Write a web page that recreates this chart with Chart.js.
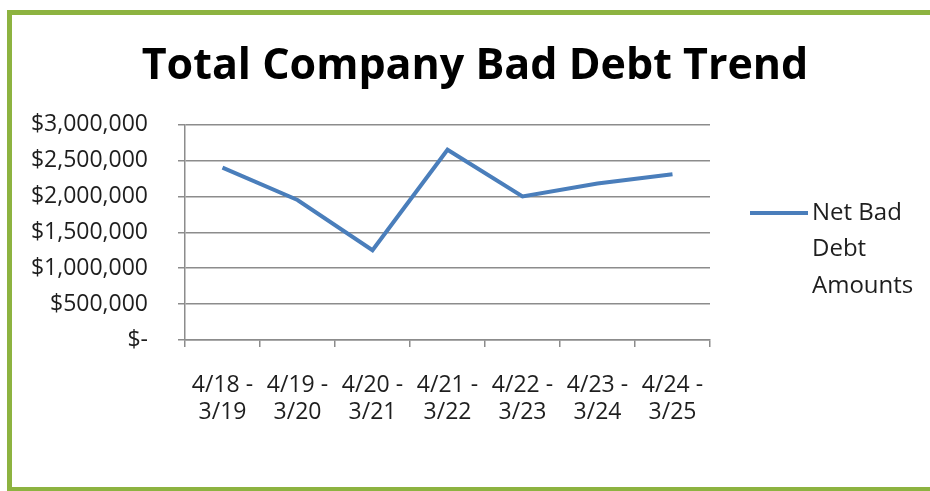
<!DOCTYPE html>
<html>
<head>
<meta charset="utf-8">
<script src="https://cdn.jsdelivr.net/npm/chart.js@4"></script>
<style>
  html, body { margin: 0; padding: 0; background: #fff; }
  #wrap { position: relative; width: 930px; height: 491px; overflow: hidden; }
  #frame {
    position: absolute; left: 7px; top: 10px; width: 940px; height: 472px;
    border-left: 5px solid #8db340; border-top: 5px solid #8db340; border-bottom: 5px solid #8db340;
  }
  canvas { position: absolute; left: 0; top: 0; }
</style>
</head>
<body>
<div id="wrap">
  <div id="frame"></div>
  <canvas id="chart" width="930" height="491"></canvas>
</div>
<script>
// data
const periods = [['4/18 -', '3/19'], ['4/19 -', '3/20'], ['4/20 -', '3/21'], ['4/21 -', '3/22'],
                 ['4/22 -', '3/23'], ['4/23 -', '3/24'], ['4/24 -', '3/25']];
const netBadDebt = [2400000, 1950000, 1250000, 2650000, 2000000, 2180000, 2310000];
const seriesName = 'Net Bad Debt Amounts';
const legendLines = ['Net Bad', 'Debt', 'Amounts'];

const lineColor = '#4a7ebb';
const gridColor = '#8c8c8c';
const textColor = '#1e1e1e';
const fontFamily = '"Open Sans", sans-serif';

// legend drawn by hand so the label can wrap like the original
const sideLegend = {
  id: 'sideLegend',
  afterDraw(chart) {
    const ctx = chart.ctx;
    const x = chart.chartArea.right + 40;
    const y = 213;
    ctx.save();
    ctx.strokeStyle = lineColor;
    ctx.lineWidth = 4;
    ctx.beginPath();
    ctx.moveTo(x, y);
    ctx.lineTo(x + 58, y);
    ctx.stroke();
    ctx.fillStyle = textColor;
    ctx.font = '24px ' + fontFamily;
    ctx.textBaseline = 'middle';
    legendLines.forEach((t, i) => ctx.fillText(t, x + 62, y + i * 36.5));
    ctx.restore();
  }
};

new Chart(document.getElementById('chart'), {
  type: 'line',
  data: {
    labels: periods,
    datasets: [{
      label: seriesName,
      data: netBadDebt,
      borderColor: lineColor,
      backgroundColor: lineColor,
      borderWidth: 4,
      pointRadius: 0,
      tension: 0,
      fill: false
    }]
  },
  options: {
    responsive: false,
    animation: false,
    layout: { padding: { left: 20, right: 0, top: 0, bottom: 0 } },
    plugins: {
      legend: { display: false },
      tooltip: { enabled: false },
      title: {
        display: true,
        text: 'Total Company Bad Debt Trend',
        color: '#000',
        font: { family: fontFamily, size: 43, weight: 'bold', lineHeight: 1.2 },
        padding: { top: 41, bottom: 32 }
      }
    },
    scales: {
      x: {
        offset: true,
        grid: { display: true, drawOnChartArea: false, drawTicks: true, tickLength: 7, color: gridColor, lineWidth: 1.5, offset: true },
        border: { display: true, color: gridColor, width: 1.5 },
        ticks: {
          color: textColor, padding: 25, maxRotation: 0, autoSkip: false,
          font: { family: fontFamily, size: 23, lineHeight: 1.17 }
        },
        afterFit(scale) { scale.height = 151; }
      },
      y: {
        min: 0, max: 3000000,
        grid: { color: gridColor, lineWidth: 1.5, tickLength: 7 },
        border: { display: true, color: gridColor, width: 1.5 },
        ticks: {
          stepSize: 500000, color: textColor, padding: 30,
          font: { family: fontFamily, size: 23 },
          callback: v => v === 0 ? '$-' : '$' + v.toLocaleString('en-US')
        },
        afterFit(scale) { scale.width = 165; }
      },
      // empty right-hand axis that reserves room for the legend
      side: {
        type: 'linear',
        position: 'right',
        display: true,
        grid: { display: false },
        border: { display: false },
        ticks: { display: false },
        afterFit(scale) { scale.width = 220; }
      }
    }
  },
  plugins: [sideLegend]
});
</script>
</body>
</html>
